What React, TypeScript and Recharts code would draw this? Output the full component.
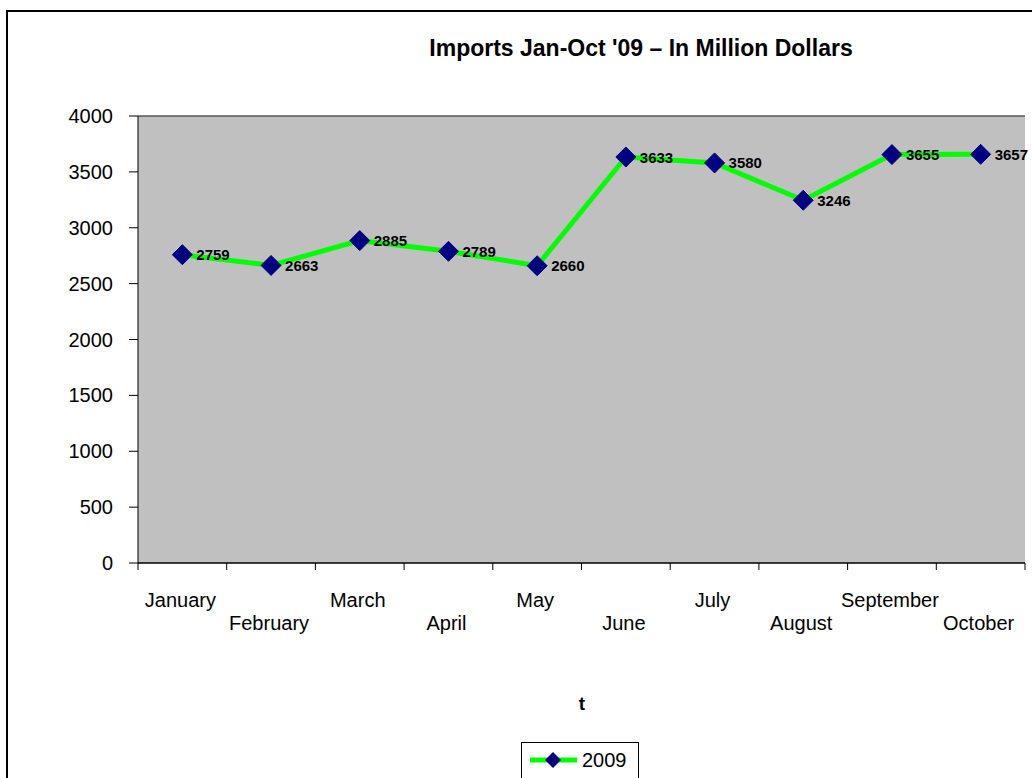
import React from 'react';
import { LineChart, Line, XAxis, YAxis, CartesianGrid, LabelList, ReferenceLine, Legend } from 'recharts';

const months = ['January', 'February', 'March', 'April', 'May', 'June', 'July', 'August', 'September', 'October'];
const values2009 = [2759, 2663, 2885, 2789, 2660, 3633, 3580, 3246, 3655, 3657];
const yTicks = [0, 500, 1000, 1500, 2000, 2500, 3000, 3500, 4000];
const boundaryTicks = [0, 1, 2, 3, 4, 5, 6, 7, 8, 9, 10];
const centerTicks = months.map((_, i) => i + 0.5);

const data = months.map((m, i) => ({ month: m, pos: i + 0.5, v: values2009[i] }));

const FONT = 'Arial, "Liberation Sans", sans-serif';

const Diamond = (props: any) => {
  const { cx, cy, index } = props;
  if (cx == null || cy == null) return <g key={`d-${index}`} />;
  const r = 10;
  return (
    <path
      key={`d-${index}`}
      d={`M${cx},${cy - r}L${cx + r},${cy}L${cx},${cy + r}L${cx - r},${cy}Z`}
      fill="#000080"
      stroke="#000080"
    />
  );
};

const ValueLabel = (props: any) => {
  const { x, y, value } = props;
  return (
    <text x={x + 14} y={y} dominantBaseline="central" fontFamily={FONT} fontWeight="bold" fontSize={15} fill="#000">
      {value}
    </text>
  );
};

const MonthTick = (props: any) => {
  const { x, y, payload } = props;
  const idx = Math.round(payload.value - 0.5);
  const row = idx % 2;
  return (
    <text x={x - 2} y={y + (row === 0 ? 26.5 : 50)} textAnchor="middle" dominantBaseline="central" fontFamily={FONT} fontSize={20} fill="#000">
      {months[idx]}
    </text>
  );
};

const EmptyTick = () => <g />;

const LegendContent = () => (
  <div style={{ width: 118, height: 44, border: '1px solid #000', boxSizing: 'border-box', background: '#fff', position: 'relative' }}>
    <svg width={60} height={34} style={{ position: 'absolute', left: 0, top: 0 }}>
      <line x1={8} y1={17} x2={55} y2={17} stroke="#00FF00" strokeWidth={5} />
      <path d="M31,9L39,17L31,25L23,17Z" fill="#000080" />
    </svg>
    <span style={{ position: 'absolute', left: 60, top: 6, fontFamily: FONT, fontSize: 20, lineHeight: '23px', color: '#000' }}>2009</span>
  </div>
);

export default function App() {
  return (
    <div style={{ position: 'fixed', left: 0, top: 0, width: 1032, height: 778, overflow: 'hidden', background: '#fff' }}>
      <div style={{ position: 'absolute', left: 6, top: 10, width: 1100, height: 900, border: '2px solid #000' }} />
      <div style={{ position: 'absolute', left: 0, top: 0 }}>
        <LineChart width={1032} height={778} data={data} margin={{ top: 116, right: 7, bottom: 103, left: 78 }}>
          <CartesianGrid vertical={false} horizontal={true} stroke="#000" fill="#C0C0C0" fillOpacity={1} />
          <XAxis
            xAxisId="bound"
            type="number"
            dataKey="pos"
            domain={[0, 10]}
            ticks={boundaryTicks}
            height={8}
            tickSize={7}
            tick={EmptyTick}
            stroke="#000"
            axisLine={{ stroke: '#000' }}
            tickLine={{ stroke: '#000' }}
            allowDataOverflow
          />
          <XAxis
            xAxisId="labels"
            type="number"
            dataKey="pos"
            domain={[0, 10]}
            ticks={centerTicks}
            height={60}
            tickSize={0}
            tickLine={false}
            axisLine={false}
            tick={MonthTick}
            interval={0}
          />
          <YAxis
            yAxisId="left"
            domain={[0, 4000]}
            ticks={yTicks}
            width={60}
            tickSize={9}
            tickMargin={16}
            stroke="#000"
            tick={{ fontFamily: FONT, fontSize: 20, fill: '#000' }}
            interval={0}
          />
          <YAxis yAxisId="right" orientation="right" width={0} domain={[0, 4000]} tick={false} tickLine={false} axisLine={{ stroke: '#808080' }} />
          <ReferenceLine xAxisId="bound" yAxisId="left" y={4000} stroke="#808080" />
          <Legend
            content={LegendContent}
            wrapperStyle={{ position: 'absolute', left: 521, top: 742, width: 118, height: 44 }}
          />
          <Line
            xAxisId="bound"
            yAxisId="left"
            type="linear"
            dataKey="v"
            name="2009"
            stroke="#00FF00"
            strokeWidth={5}
            dot={Diamond}
            activeDot={false}
            isAnimationActive={false}
          >
            <LabelList dataKey="v" content={ValueLabel} />
          </Line>
        </LineChart>
      </div>
      <div style={{ position: 'absolute', left: 0, width: 1282, top: 35, textAlign: 'center', fontFamily: FONT, fontWeight: 'bold', fontSize: 23, color: '#000', whiteSpace: 'nowrap' }}>
        Imports Jan-Oct '09 – In Million Dollars
      </div>
      <div style={{ position: 'absolute', left: 572, width: 20, top: 693, textAlign: 'center', fontFamily: FONT, fontWeight: 'bold', fontSize: 19, color: '#000' }}>
        t
      </div>
    </div>
  );
}
